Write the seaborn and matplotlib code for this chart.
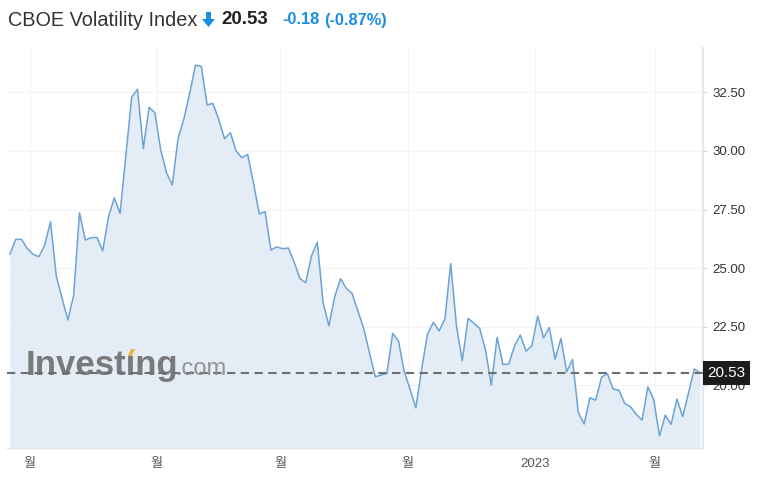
import matplotlib.pyplot as plt
import seaborn as sns
import pandas as pd
from matplotlib.transforms import blended_transform_factory
from matplotlib.patches import Polygon

# daily closes of the index (left -> right)
vix = [25.59, 26.23, 26.23, 25.84, 25.59, 25.49, 25.98, 26.98, 24.66, 23.71,
       22.79, 23.85, 27.36, 26.20, 26.30, 26.31, 25.74, 27.19, 28.00, 27.34,
       29.83, 32.29, 32.63, 30.11, 31.86, 31.63, 30.04, 29.07, 28.55, 30.54,
       31.36, 32.46, 33.66, 33.61, 31.96, 32.03, 31.35, 30.52, 30.78, 30.00,
       29.71, 29.85, 28.62, 27.31, 27.41, 25.77, 25.91, 25.83, 25.86, 25.27,
       24.56, 24.38, 25.52, 26.11, 23.52, 22.54, 23.78, 24.55, 24.14, 23.92,
       23.18, 22.43, 21.38, 20.37, 20.44, 20.51, 22.22, 21.89, 20.58, 19.83,
       19.04, 20.72, 22.18, 22.69, 22.32, 22.83, 25.20, 22.53, 21.05, 22.86,
       22.65, 22.43, 21.51, 20.01, 22.05, 20.90, 20.90, 21.68, 22.15, 21.46,
       21.69, 22.96, 22.03, 22.47, 21.12, 22.00, 20.58, 21.11, 18.85, 18.35,
       19.47, 19.37, 20.34, 20.51, 19.84, 19.80, 19.23, 19.09, 18.76, 18.52,
       19.94, 19.40, 17.85, 18.73, 18.34, 19.42, 18.66, 19.68, 20.70, 20.53]
day = list(range(len(vix)))

month_ticks = [3.4, 25.3, 46.6, 68.6, 90.5, 111.2]
month_labels = ['월', '월', '월', '월', '2023', '월']
price_ticks = [20.0, 22.5, 25.0, 27.5, 30.0, 32.5]
last_price = 20.53
change = '-0.18'
change_pct = '(-0.87%)'

df = pd.DataFrame({'day': day, 'close': vix})

sns.set_style('white')
plt.rcParams['font.family'] = ['Liberation Sans', 'Noto Sans CJK KR', 'DejaVu Sans']

W, H = 760, 486
fig = plt.figure(figsize=(W / 100, H / 100), dpi=100)


def px(x, y):
    return x / W, 1 - y / H


ax = fig.add_axes([7 / W, 1 - 448 / H, 696 / W, 400 / H])

ax.fill_between(df['day'], df['close'], 15, color='#e4ecf5', lw=0, zorder=1)
sns.lineplot(data=df, x='day', y='close', ax=ax, color='#6ba3d6', lw=1.1, zorder=2)

ax.set_xlim(-0.5, 119.5)
ax.set_ylim(17.33, 34.39)
ax.set_xlabel('')
ax.set_ylabel('')

ax.yaxis.tick_right()
ax.set_yticks(price_ticks)
ax.set_yticklabels([f'{v:.2f}' for v in price_ticks])
ax.set_xticks(month_ticks)
ax.set_xticklabels(month_labels)
ax.tick_params(axis='y', length=3, width=0.8, color='#d8d8d8', pad=3.5,
               labelsize=9.5, labelcolor='#333333')
ax.tick_params(axis='x', length=4, width=0.8, color='#d8d8d8', pad=3,
               labelsize=9.5, labelcolor='#555555')
ax.grid(True, color='#f3f3f3', lw=0.8)
ax.set_axisbelow(True)

for s in ['left', 'top']:
    ax.spines[s].set_visible(False)
ax.spines['bottom'].set_color('#dde3ea')
ax.spines['bottom'].set_linewidth(1.0)
ax.spines['right'].set_color('#e4e7ef')
ax.spines['right'].set_linewidth(1.6)

# watermark (dotless i, the dot is drawn orange)
wm_size = 25
wm = fig.text(*px(26, 375), 'Investıng', fontsize=wm_size, fontweight='heavy',
              color='#6e6e6e', alpha=0.9, va='baseline', ha='left', zorder=1.5)
r = fig.canvas.get_renderer()
bb = wm.get_window_extent(r)
tmp = fig.text(0, 0, 'Invest', fontsize=wm_size, fontweight='heavy')
w_pre = tmp.get_window_extent(r).width
tmp2 = fig.text(0, 0, 'ı', fontsize=wm_size, fontweight='heavy')
w_i = tmp2.get_window_extent(r).width
tmp.remove()
tmp2.remove()
ix = bb.x0 + w_pre + w_i / 2
fig.text(bb.x1 / W - 0.003, 1 - 375 / H, '.com', fontsize=17,
         color='#8a8a8a', alpha=0.9, va='baseline', ha='left', zorder=1.5)
dot = [(ix - 3.5, 356), (ix - 0.5, 349), (ix + 3.5, 349), (ix + 0.5, 356)]
fig.patches.append(Polygon([px(*p) for p in dot], closed=True, fc='#f0b34a',
                           ec='none', transform=fig.transFigure, zorder=1.6))

# last price line and tag
ax.axhline(last_price, color='#6f6f6f', lw=1.5, ls=(0, (4, 2.6)), zorder=3)
tr = blended_transform_factory(ax.transAxes, ax.transData)
ax.text(1.006, last_price, f'{last_price:.2f}', transform=tr, ha='left', va='center',
        color='white', fontsize=11, zorder=6, clip_on=False,
        bbox=dict(boxstyle='square,pad=0.3', fc='#1c1c1c', ec='none'))

# header
fig.text(*px(8, 20), 'CBOE Volatility Index', fontsize=14.3, color='#333333',
         va='center', ha='left')
arrow = [(206, 12), (211, 12), (211, 19), (215, 19), (208.5, 27), (202, 19), (206, 19)]
fig.patches.append(Polygon([px(*p) for p in arrow], closed=True, fc='#1a8ee1',
                           ec='none', transform=fig.transFigure))
fig.text(*px(221, 20), f'{last_price:.2f}', fontsize=13.5, fontweight='bold',
         color='#222222', va='center', ha='left')
fig.text(*px(282, 20), change, fontsize=11.8, fontweight='bold', color='#1a8ee1',
         va='center', ha='left')
fig.text(*px(324, 20), change_pct, fontsize=11.8, fontweight='bold', color='#1a8ee1',
         va='center', ha='left')

fig.savefig('out.png', dpi=100)
